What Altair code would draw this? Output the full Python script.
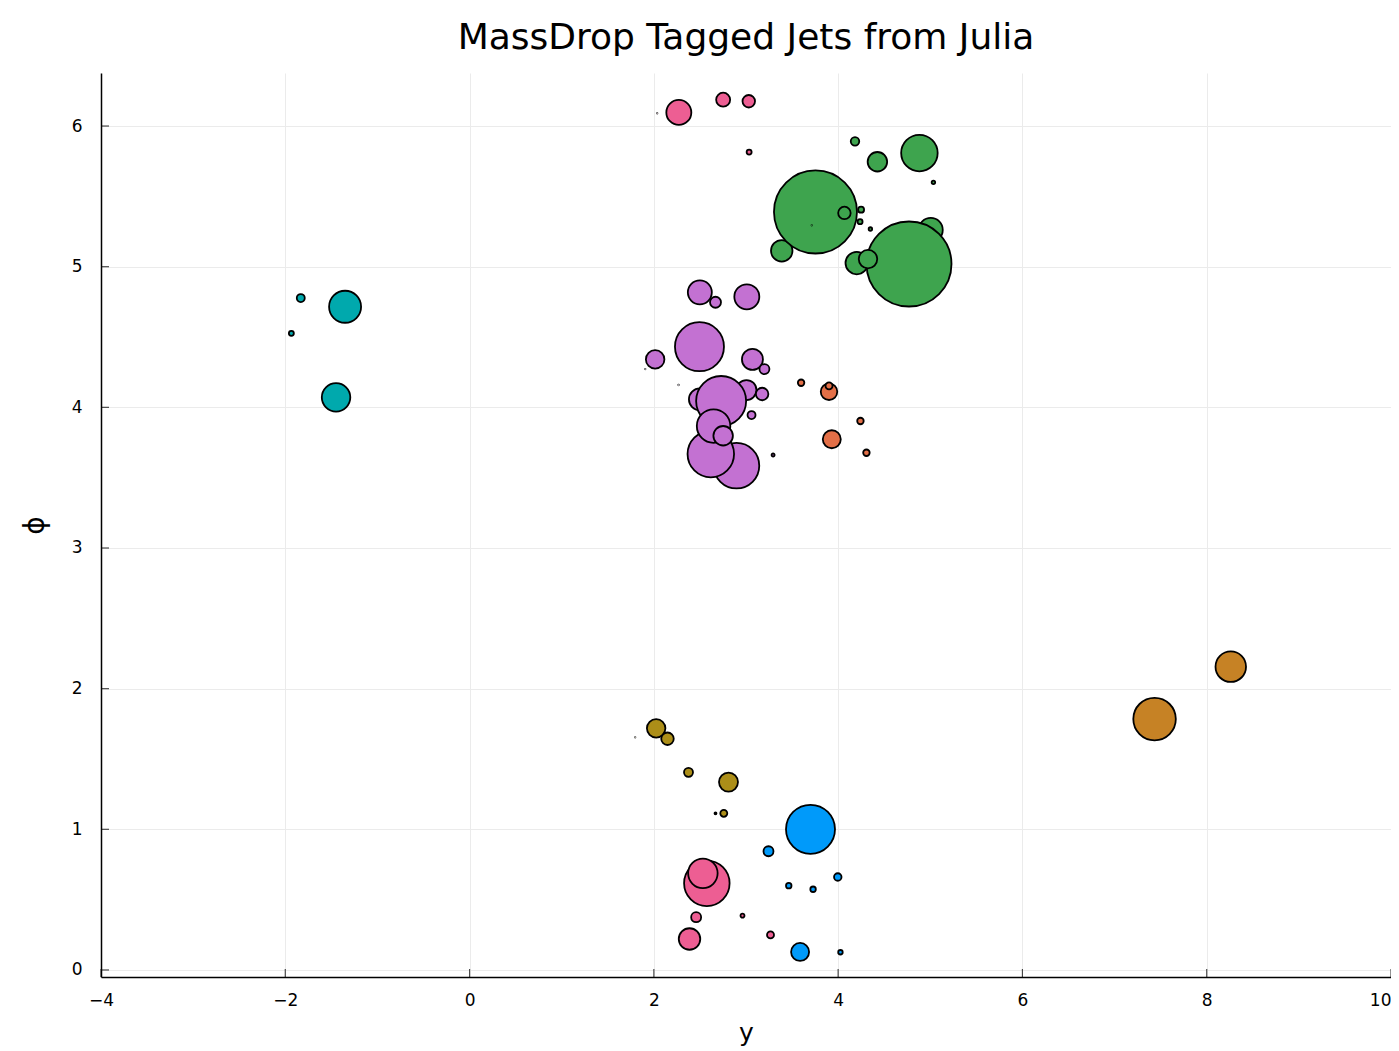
import altair as alt
import pandas as pd

# ---- data (rapidity y, azimuth phi, constituent pt) ----
jet_names = ["jet1", "jet2", "jet3", "jet4", "jet5", "jet6", "jet7", "jet8"]
jet_colors = ["#009AFA", "#E36F47", "#3EA44E", "#C371D2",
              "#AC8E18", "#00A9AD", "#ED5E93", "#C68225"]

jet1_rap = [3.700, 3.244, 3.464, 3.728, 3.996, 3.587, 4.025]
jet1_phi = [1.000, 0.844, 0.599, 0.574, 0.661, 0.128, 0.126]
jet1_pt = [49.0, 10.0, 5.5, 5.5, 7.5, 18.0, 4.5]

jet2_rap = [3.598, 3.901, 3.901, 3.931, 4.242, 4.307]
jet2_phi = [4.175, 4.111, 4.152, 3.773, 3.903, 3.677]
jet2_pt = [6.5, 16.5, 7.0, 18.0, 6.5, 6.5]

jet3_rap = [4.183, 4.426, 4.882, 5.034, 3.388, 3.754, 3.714, 4.068,
            4.249, 4.238, 4.350, 5.005, 4.769, 4.202, 4.324]
jet3_phi = [5.891, 5.746, 5.808, 5.600, 5.113, 5.389, 5.294, 5.382,
            5.405, 5.320, 5.268, 5.261, 5.019, 5.026, 5.054]
jet3_pt = [8.5, 19.5, 36.5, 3.5, 21.5, 83.0, 0.5, 12.5,
           6.0, 5.0, 3.5, 24.0, 85.0, 22.5, 18.5]

jet4_rap = [2.499, 2.669, 3.009, 2.495, 2.014, 1.906, 2.268, 3.070, 3.200,
            2.500, 3.005, 3.175, 2.730, 3.060, 2.897, 2.618, 2.648, 2.752, 3.294]
jet4_phi = [4.818, 4.747, 4.786, 4.431, 4.341, 4.272, 4.159, 4.341, 4.272,
            4.057, 4.123, 4.095, 4.045, 3.945, 3.585, 3.668, 3.867, 3.798, 3.661]
jet4_pt = [24.0, 11.0, 25.0, 49.0, 18.5, 0.5, 0.5, 21.0, 10.0,
           22.0, 20.0, 12.5, 50.0, 8.0, 45.5, 46.5, 33.5, 19.5, 3.0]

jet5_rap = [1.797, 2.025, 2.148, 2.376, 2.810, 2.669, 2.759]
jet5_phi = [1.654, 1.718, 1.644, 1.405, 1.336, 1.114, 1.114]
jet5_pt = [0.5, 18.5, 12.5, 9.0, 19.0, 2.0, 7.0]

jet6_rap = [-1.832, -1.351, -1.934, -1.449]
jet6_phi = [4.777, 4.715, 4.526, 4.071]
jet6_pt = [8.0, 32.0, 5.0, 28.5]

jet7_rap = [2.036, 2.271, 2.752, 3.030, 3.034, 2.575, 2.532, 2.459, 2.387, 2.962, 3.266]
jet7_phi = [6.090, 6.097, 6.187, 6.176, 5.815, 0.616, 0.687, 0.375, 0.220, 0.386, 0.249]
jet7_pt = [0.5, 25.0, 14.0, 12.5, 5.0, 45.5, 29.5, 10.0, 21.5, 4.0, 7.0]

jet8_rap = [7.434, 8.261]
jet8_phi = [1.784, 2.156]
jet8_pt = [42.5, 30.5]

x_ticks = [-4, -2, 0, 2, 4, 6, 8, 10]
y_ticks = [0, 1, 2, 3, 4, 5, 6]

groups = [
    (jet1_rap, jet1_phi, jet1_pt), (jet2_rap, jet2_phi, jet2_pt),
    (jet3_rap, jet3_phi, jet3_pt), (jet4_rap, jet4_phi, jet4_pt),
    (jet5_rap, jet5_phi, jet5_pt), (jet6_rap, jet6_phi, jet6_pt),
    (jet7_rap, jet7_phi, jet7_pt), (jet8_rap, jet8_phi, jet8_pt),
]
rows = []
for name, (r, p, s) in zip(jet_names, groups):
    for a, b, c in zip(r, p, s):
        rows.append({"jet": name, "rap": a, "phi": b, "pt": c, "idx": len(rows)})
df = pd.DataFrame(rows)

W, H = 1290, 904
FONT = "DejaVu Sans"

xscale = alt.Scale(domain=[-4, 10], nice=False, zero=False)
yscale = alt.Scale(domain=[-0.05, 6.377], nice=False, zero=False)

xaxis = alt.Axis(
    title="y", values=x_ticks, grid=True, gridColor="#ebebeb", gridWidth=1,
    ticks=False, tickSize=0, labelPadding=15, labelFontSize=17, labelFont=FONT,
    labelColor="black", domainColor="black", domainWidth=1.5,
    labelAlign={"condition": {"test": "datum.value == 10", "value": "right"},
                "value": "center"},
    titleFont=FONT, titleFontSize=25, titleFontWeight="normal",
    titleColor="black", titlePadding=12, labelFlush=False)
yaxis = alt.Axis(
    title="ϕ", values=y_ticks, grid=True, gridColor="#ebebeb", gridWidth=1,
    ticks=False, tickSize=0, labelPadding=19, labelFontSize=17, labelFont=FONT,
    labelColor="black", domainColor="black", domainWidth=1.5,
    titleFont=FONT, titleFontSize=28, titleFontWeight="normal",
    titleColor="black", titlePadding=22, labelFlush=False)

points = alt.Chart(df).mark_circle(
    stroke="black", strokeWidth=1.8, opacity=1, fillOpacity=1, strokeOpacity=1
).encode(
    x=alt.X("rap:Q", scale=xscale, axis=xaxis),
    y=alt.Y("phi:Q", scale=yscale, axis=yaxis),
    fill=alt.Fill("jet:N", scale=alt.Scale(domain=jet_names, range=jet_colors), legend=None),
    size=alt.Size("pt:Q", scale=alt.Scale(type="pow", exponent=2, domain=[0, 100],
                                          range=[0, 10000]), legend=None),
    order=alt.Order("idx:Q"),
)

xt = alt.Chart(pd.DataFrame({"rap": x_ticks})).mark_tick(
    color="black", thickness=1.2, size=8, orient="vertical"
).encode(x=alt.X("rap:Q", scale=xscale, axis=xaxis), y=alt.value(H - 4))

yt = alt.Chart(pd.DataFrame({"phi": y_ticks})).mark_tick(
    color="black", thickness=1.2, size=8, orient="horizontal"
).encode(y=alt.Y("phi:Q", scale=yscale, axis=yaxis), x=alt.value(4))

chart = alt.layer(points, xt, yt).properties(
    width=W, height=H,
    title=alt.TitleParams("MassDrop Tagged Jets from Julia", fontSize=36, font=FONT,
                          fontWeight="normal", anchor="middle", frame="group",
                          offset=16, color="black"),
    autosize=alt.AutoSizeParams(type="none"),
    padding={"left": 93, "top": 65, "right": 0, "bottom": 70},
).configure_view(stroke=None)

chart.save("out.html", embed_options={"renderer": "svg", "actions": False})
